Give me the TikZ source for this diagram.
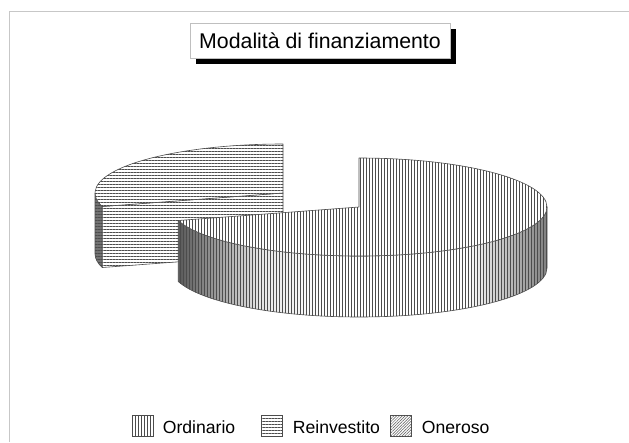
\documentclass[tikz,border=0pt]{standalone}
\usepackage{fontspec}
\setmainfont{Liberation Sans}
\usetikzlibrary{patterns.meta,shadows}
\pgfdeclarehorizontalshading{sideshade}{100bp}{color(0bp)=(black!65); color(25bp)=(black!65); color(36bp)=(black!10); color(45bp)=(white); color(64bp)=(white); color(75bp)=(black!50); color(100bp)=(black!50)}
\begin{document}
\begin{tikzpicture}[x=1pt,y=1pt,
  edge/.style={draw=black!70, line width=0.6pt, line join=round},
  vhatch/.style={pattern={Lines[angle=90,distance=3pt,line width=0.65pt]}, pattern color=black!70},
  hhatch/.style={pattern={Lines[angle=0,distance=3pt,line width=0.65pt]}, pattern color=black!70},
  dhatch/.style={pattern={Lines[angle=45,distance=2pt,line width=0.5pt]}, pattern color=black!65},
  ell/.style={x radius=188, y radius=49},
  legbox/.style={draw=black!70, line width=0.6pt, minimum width=21pt, minimum height=21pt, inner sep=0pt},
  legtext/.style={anchor=base west, inner sep=0pt, font=\fontsize{17.6}{20}\selectfont},
  titlebox/.style={draw=black!25, line width=0.6pt, fill=white, inner sep=0pt,
    minimum width=260pt, minimum height=35.5pt, text height=15pt, text depth=0pt,
    font=\fontsize{21.3}{24}\selectfont,
    drop shadow={shadow xshift=5.5pt, shadow yshift=-5.5pt, fill=black, opacity=1}}
]
\useasboundingbox (0,0) rectangle (629,-442);
\fill[white] (0,0) rectangle (629,-442);
% frame
\draw[black!22, line width=1.2pt] (9.3,-442) -- (9.3,-11.7) -- (629,-11.7);
% title
\node[titlebox] (title) at (320,-41) {Modalità di finanziamento};

\coordinate (c1) at (359,-207);
\coordinate (c2) at (283,-193);

% Reinvestito (exploded slice)
\path[fill=black!55, postaction={hhatch}, postaction={edge}]
  ([shift={(180:188 and 49)}]c2) arc[start angle=180, end angle=196, ell]
  -- ++(0,-61) arc[start angle=196, end angle=180, ell] -- cycle;
\path[fill=white, postaction={hhatch}, postaction={edge}]
  (c2) -- ([shift={(196:188 and 49)}]c2) -- ++(0,-61) -- ([yshift=-61pt]c2) -- cycle;
\path[fill=white, postaction={hhatch}, postaction={edge}]
  (c2) -- ([shift={(90:188 and 49)}]c2) arc[start angle=90, end angle=196, ell] -- cycle;

% Ordinario (main slice)
\path[shade, shading=sideshade, postaction={vhatch}, postaction={edge}]
  ([shift={(196:188 and 49)}]c1) arc[start angle=196, end angle=360, ell]
  -- ++(0,-61) arc[start angle=360, end angle=196, ell] -- cycle;
\path[fill=white, postaction={vhatch}, postaction={edge}]
  (c1) -- ([shift={(90:188 and 49)}]c1) arc[start angle=90, end angle=-164, ell] -- cycle;

% legend
\node[legbox, fill=white, postaction={vhatch}] (k1) at (142.5,-426) {};
\node[legtext] (t1) at (162.7,-433) {Ordinario};
\node[legbox, fill=white, postaction={hhatch}] (k2) at (272,-426) {};
\node[legtext] (t2) at (292.7,-433) {Reinvestito};
\node[legbox, fill=white, postaction={dhatch}] (k3) at (401.2,-426) {};
\node[legtext] (t3) at (421.7,-433) {Oneroso};
\end{tikzpicture}
\end{document}
